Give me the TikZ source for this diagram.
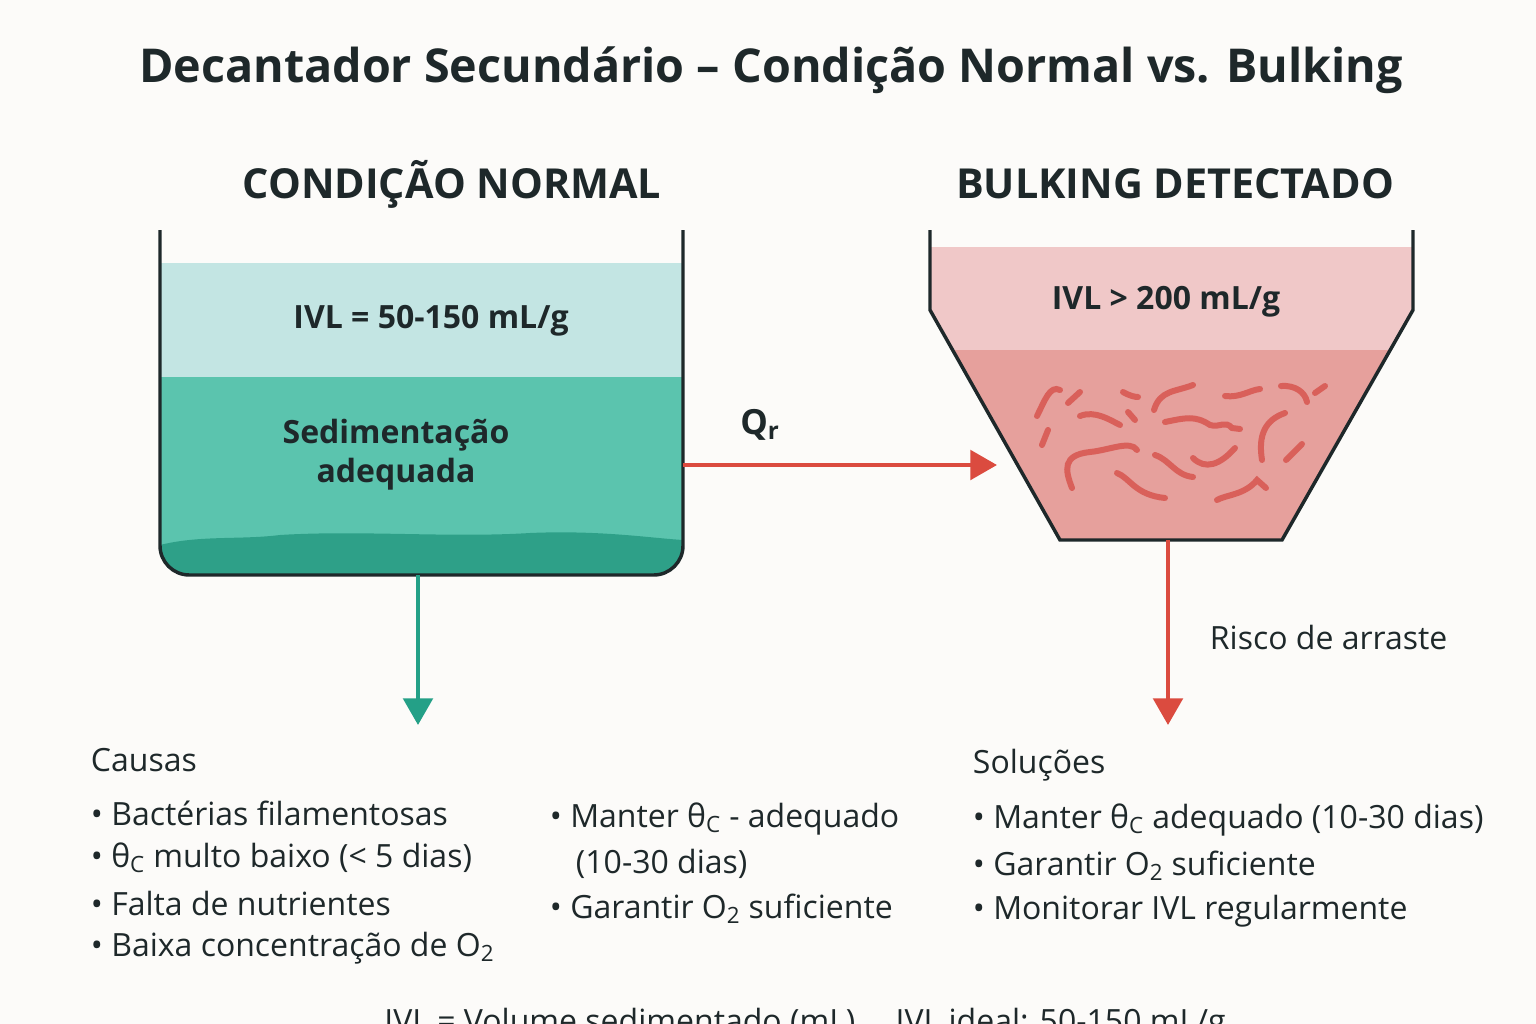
\documentclass[tikz,border=0pt]{standalone}
\usepackage{fontspec}
\setmainfont{Open Sans}
\definecolor{bg}{RGB}{252,251,249}
\definecolor{ink}{RGB}{30,40,42}
\definecolor{clearw}{RGB}{195,229,227}
\definecolor{teal}{RGB}{91,196,174}
\definecolor{sludge}{RGB}{46,160,136}
\definecolor{arrowteal}{RGB}{36,160,135}
\definecolor{pinkl}{RGB}{240,200,200}
\definecolor{pinkd}{RGB}{230,160,156}
\definecolor{fil}{RGB}{217,96,90}
\definecolor{red}{RGB}{219,75,63}
\tikzset{every picture/.style={line width=0.75pt}}
\tikzset{
  wall/.style={draw=ink,line width=2.6pt},
  flow/.style={line width=3.3pt,-{Triangle[length=20pt,width=22pt]}},
  filament/.style={fil,line width=4.5pt,line cap=round},
  txt/.style={text=ink,font=\fontsize{24}{29}\selectfont,anchor=west},
}
\usetikzlibrary{arrows.meta}
\begin{document}
\begin{tikzpicture}[x=0.75pt,y=0.75pt,yscale=-1,xscale=1]
	\clip (0,0) rectangle (1536,1024);
	\fill[bg] (0,0) rectangle (1536,1024);

	% Title and headings
	\node[text=ink,font=\fontsize{35}{40}\selectfont\bfseries] (title) at (771,70) {Decantador Secundário – Condição Normal vs. Bulking};
	\node[text=ink,font=\fontsize{31}{36}\selectfont\bfseries] (hnormal) at (452,184) {CONDIÇÃO NORMAL};
	\node[text=ink,font=\fontsize{31}{36}\selectfont\bfseries] (hbulking) at (1175,184) {BULKING DETECTADO};

	%Shape: left tank
	\begin{scope}
	\clip[rounded corners=22pt] (160,200) -- (683,200) -- (683,575) -- (160,575) -- cycle;
	\fill[clearw] (160,263) rectangle (683,377);
	\fill[teal] (160,377) rectangle (683,575);
	\fill[sludge] (160,545) .. controls (200,535) and (240,540) .. (280,535) .. controls (360,530) and (450,538) .. (530,533) .. controls (600,530) and (650,538) .. (683,540) -- (683,575) -- (160,575) -- cycle;
	\end{scope}
	\draw[wall,rounded corners=22pt] (160,230) -- (160,575) -- (683,575) -- (683,230);
	\node[text=ink,font=\fontsize{24}{29}\selectfont\bfseries] (ivlnormal) at (431,321) {IVL = 50-150 mL/g};
	\node[text=ink,font=\fontsize{24}{29}\selectfont\bfseries,align=center] (sedim) at (396,455) {Sedimentação\\adequada};

	%Shape: right tank
	\fill[pinkl] (930,247) -- (1413,247) -- (1413,310) -- (1390,350) -- (953,350) -- (930,310) -- cycle;
	\fill[pinkd] (953,350) -- (1390,350) -- (1282,540) -- (1060,540) -- cycle;
	\draw[wall] (930,230) -- (930,310) -- (1060,540) -- (1282,540) -- (1413,310) -- (1413,230);
	\node[text=ink,font=\fontsize{24}{29}\selectfont\bfseries] (ivlbulk) at (1166,302) {IVL > 200 mL/g};

	% filaments
	\draw[filament] (1037,416) .. controls (1045,400) and (1050,385) .. (1060,390);
	\draw[filament] (1068,403) -- (1080,392);
	\draw[filament] (1123,392) .. controls (1130,396) and (1135,397) .. (1138,397);
	\draw[filament] (1154,410) .. controls (1160,390) and (1175,392) .. (1193,385);
	\draw[filament] (1225,396) .. controls (1240,398) and (1250,390) .. (1260,389);
	\draw[filament] (1281,386) .. controls (1295,385) and (1305,392) .. (1307,402);
	\draw[filament] (1315,393) -- (1325,386);
	\draw[filament] (1080,416) .. controls (1095,410) and (1110,420) .. (1120,425);
	\draw[filament] (1128,412) -- (1135,420);
	\draw[filament] (1165,422) .. controls (1185,418) and (1195,415) .. (1210,425) .. controls (1220,428) and (1225,420) .. (1232,428) -- (1240,429);
	\draw[filament] (1262,460) .. controls (1258,435) and (1265,420) .. (1285,413);
	\draw[filament] (1042,445) -- (1048,430);
	\draw[filament] (1072,488) .. controls (1065,470) and (1062,455) .. (1090,452) .. controls (1110,450) and (1130,440) .. (1137,450);
	\draw[filament] (1155,455) .. controls (1170,460) and (1175,475) .. (1193,477);
	\draw[filament] (1193,458) .. controls (1205,470) and (1220,465) .. (1235,448);
	\draw[filament] (1286,460) -- (1302,444);
	\draw[filament] (1117,473) .. controls (1130,478) and (1135,495) .. (1165,498);
	\draw[filament] (1217,500) .. controls (1225,495) and (1245,495) .. (1257,480) -- (1266,488);

	% flows
	\coordinate (qrs) at (683,465);
	\coordinate (qre) at (997,465);
	\coordinate (ns) at (418,575);
	\coordinate (ne) at (418,725);
	\coordinate (bs) at (1168,540);
	\coordinate (be) at (1168,725);
	\draw[flow,red] (qrs) -- (qre);
	\draw[flow,arrowteal] (ns) -- (ne);
	\draw[flow,red] (bs) -- (be);
	\node[text=ink,font=\fontsize{26}{30}\selectfont\bfseries] (qr) at (760,425) {Q\textsubscript{r}};
	\node[txt] (risco) at (1205,637) {Risco de arraste};

	% lists
	\node[txt] (causas) at (86,760) {Causas};
	\node[txt] (c1) at (86,813) {• Bactérias filamentosas};
	\node[txt] (c2) at (86,858) {• θ\textsubscript{C} multo baixo (< 5 dias)};
	\node[txt] (c3) at (86,903) {• Falta de nutrientes};
	\node[txt] (c4) at (86,948) {• Baixa concentração  de O\textsubscript{2}};
	\node[txt] (m1) at (545,819) {• Manter θ\textsubscript{C} - adequado};
	\node[txt] (m2) at (571,864) {(10-30 dias)};
	\node[txt] (m3) at (545,909) {• Garantir O\textsubscript{2} suficiente};
	\node[txt] (solu) at (968,765) {Soluções};
	\node[txt] (s1) at (968,820) {• Manter θ\textsubscript{C} adequado (10-30 dias)};
	\node[txt] (s2) at (968,866) {• Garantir O\textsubscript{2} suficiente};
	\node[txt] (s3) at (968,911) {• Monitorar IVL regularmente};
	\node[text=ink,font=\fontsize{24}{29}\selectfont,anchor=north] (foot) at (805,1003) {IVL = Volume sedimentado  (mL)  \quad IVL ideal: 50-150 mL/g};
\end{tikzpicture}
\end{document}
